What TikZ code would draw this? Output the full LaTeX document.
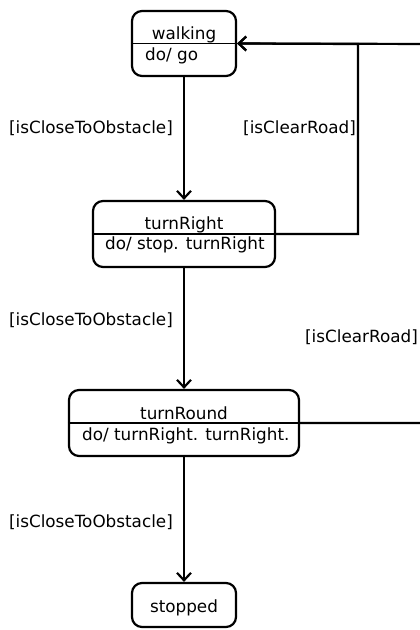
\documentclass[tikz,border=0pt]{standalone}
\usepackage{fontspec}
\setmainfont{DejaVu Sans}
\usetikzlibrary{arrows.meta}
\begin{document}
\begin{tikzpicture}[x=1pt,y=-1pt,
  font=\fontsize{16.8}{19}\selectfont,
  state/.style={draw, line width=2.2pt, rounded corners=10pt, inner sep=0pt},
  divider/.style={line width=1.6pt},
  edge/.style={line width=2.2pt},
  arr/.style={edge, -{Straight Barb[length=7.5pt,width=14pt,line width=2.2pt]}},
  lbl/.style={inner sep=0pt, anchor=base}
]
\path[use as bounding box, clip] (0,0) rectangle (420,630);

% states
\node[state, minimum width=104pt, minimum height=65pt] (walking) at (184,43.5) {};
\node[state, minimum width=182pt, minimum height=66pt] (turnRight) at (184,234) {};
\node[state, minimum width=230pt, minimum height=66pt] (turnRound) at (184,423) {};
\node[state, minimum width=104pt, minimum height=44pt] (stopped) at (184,605) {};

% dividers
\draw[divider] (walking.west) -- (walking.east);
\draw[divider] (turnRight.west) -- (turnRight.east);
\draw[divider] (turnRound.west) -- (turnRound.east);

% texts
\node[lbl] (walkingT) at (184,39) {walking};
\node[lbl, anchor=base west] (walkingD) at (145,60) {do/ go};
\node[lbl] (turnRightT) at (184,229) {turnRight};
\node[lbl, anchor=base west] (turnRightD) at (105,249) {do/ stop. turnRight};
\node[lbl] (turnRoundT) at (184,419) {turnRound};
\node[lbl, anchor=base west] (turnRoundD) at (82,440) {do/ turnRight. turnRight.};
\node[lbl] (stoppedT) at (184,612) {stopped};

% connectors
\draw[arr] (walking) -- (turnRight);
\draw[arr] (turnRight) -- (turnRound);
\draw[arr] (turnRound) -- (stopped);

\coordinate (corner) at (358,44);
\draw[arr] (turnRight.east) -| (corner) -- (walking.east);

\coordinate (offA) at (440,423);
\coordinate (offB) at (440,44);
\draw[arr] (turnRound.east) -- (offA) -- (offB) -- (walking.east);

% guards
\node[lbl, anchor=base east] (g1) at (173,133) {[isCloseToObstacle]};
\node[lbl, anchor=base west] (g2) at (243,133) {[isClearRoad]};
\node[lbl, anchor=base east] (g3) at (173,325) {[isCloseToObstacle]};
\node[lbl, anchor=base east] (g4) at (418,342) {[isClearRoad]};
\node[lbl, anchor=base east] (g5) at (173,527) {[isCloseToObstacle]};
\end{tikzpicture}
\end{document}
